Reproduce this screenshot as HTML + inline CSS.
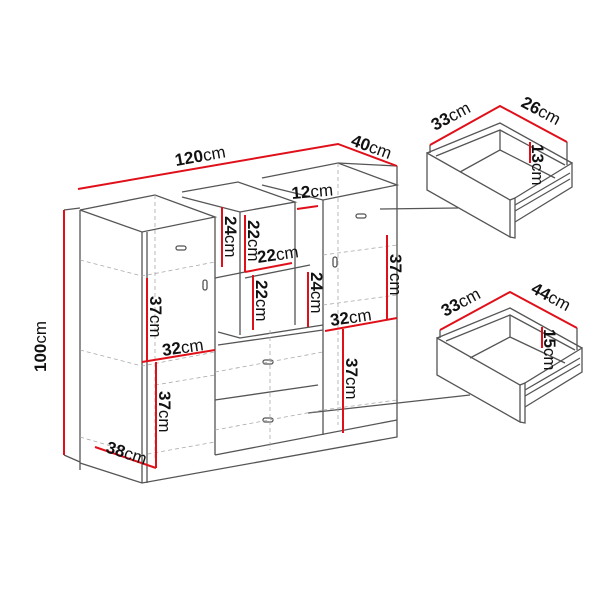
<!DOCTYPE html>
<html><head><style>
html,body{margin:0;padding:0;background:#fff;}
svg{display:block;}
text{font-family:"Liberation Sans",sans-serif;font-size:17px;fill:#111;}
.b{font-weight:bold;}
</style></head><body>
<svg width="615" height="604" viewBox="0 0 615 604" xmlns="http://www.w3.org/2000/svg">
<g stroke="#555" stroke-width="1.3" fill="none">
<polyline points="80,210 155,195 215,217 142,232 80,210"/>
<line x1="80" y1="210" x2="80" y2="463"/>
<polyline points="80,463 142,483 397,437 397,166"/>
<line x1="142" y1="232" x2="142" y2="483"/>
<line x1="147" y1="232" x2="147" y2="483"/>
<line x1="215" y1="217" x2="215" y2="455"/>
<polyline points="262,178 338,163 397,185 323,200 262,185"/>
<line x1="338" y1="163" x2="397" y2="166"/>
<line x1="323" y1="200" x2="323" y2="435"/>
<polyline points="182,192 238,182 295,202 240,212 182,197"/>
<line x1="240" y1="212" x2="240" y2="335"/>
<line x1="295" y1="202" x2="295" y2="325"/>
<polyline points="218,332 240,338 323,325"/>
<polyline points="218,345 323,330"/>
<polyline points="215,400 318,385"/>
<line x1="245" y1="278" x2="310" y2="265"/>
<line x1="215" y1="278" x2="245" y2="272"/>
<line x1="215" y1="455" x2="397" y2="420"/>
<line x1="80" y1="463" x2="80" y2="470"/>
<line x1="64" y1="210" x2="80" y2="208"/>
<line x1="64" y1="455" x2="80" y2="462"/>
<rect x="176" y="246" width="10" height="4" rx="2"/>
<rect x="203" y="280" width="4" height="10" rx="2"/>
<rect x="356" y="214" width="10" height="4" rx="2"/>
<rect x="333" y="257" width="4" height="10" rx="2"/>
<rect x="263" y="360" width="10" height="4" rx="2"/>
<rect x="263" y="418" width="10" height="4" rx="2"/>
<line x1="380" y1="209" x2="458" y2="208"/>
<line x1="308" y1="413" x2="470" y2="395"/>
<polygon points="427,153 510,200 510,237 427,190" fill="#fff"/>
<polyline points="510,200 515,198 515,238 510,237"/>
<polyline points="515,198 572,163 572,187 515,222"/>
<polyline points="427,153 500,123 572,163"/>
<polyline points="436,156 500,130 565,165"/>
<polyline points="500,130 500,150 460,172"/>
<line x1="500" y1="150" x2="555" y2="178"/>
<line x1="430" y1="145" x2="430" y2="153"/>
<line x1="567" y1="142" x2="567" y2="165"/>
<line x1="515" y1="205" x2="570" y2="173"/>
<line x1="515" y1="211" x2="570" y2="179"/>
<polygon points="437,338 520,385 520,422 437,375" fill="#fff"/>
<polyline points="520,385 525,383 525,423 520,422"/>
<polyline points="525,383 582,348 582,372 525,407"/>
<polyline points="437,338 510,308 582,348"/>
<polyline points="446,341 510,315 575,350"/>
<polyline points="510,315 510,337 470,358"/>
<line x1="510" y1="337" x2="565" y2="363"/>
<line x1="440" y1="330" x2="440" y2="338"/>
<line x1="577" y1="328" x2="577" y2="350"/>
<line x1="525" y1="390" x2="580" y2="358"/>
<line x1="525" y1="396" x2="580" y2="364"/>
</g>
<g stroke="#aaa" stroke-width="0.8" stroke-dasharray="4,3" fill="none">
<polyline points="80,260 142,276 215,262"/>
<polyline points="80,350 142,366 215,352"/>
<polyline points="80,437 142,455 215,442"/>
<polyline points="155,195 155,460"/>
<polyline points="323,255 397,245"/>
<polyline points="323,305 397,295"/>
<polyline points="155,385 215,375"/>
<polyline points="215,372 323,352"/>
<polyline points="215,430 323,410"/>
<polyline points="323,410 397,400"/>
<line x1="270" y1="330" x2="270" y2="450"/>
<line x1="338" y1="163" x2="338" y2="425"/>
</g>
<g stroke="#e0101a" stroke-width="2" fill="none">
<polyline points="78,189 338,144 397,166"/>
<line x1="64" y1="210" x2="64" y2="455"/>
<line x1="222" y1="207" x2="222" y2="267"/>
<line x1="245" y1="215" x2="245" y2="272"/>
<line x1="245" y1="272" x2="292" y2="263"/>
<line x1="253" y1="275" x2="253" y2="330"/>
<line x1="308" y1="272" x2="308" y2="327"/>
<line x1="297" y1="209" x2="318" y2="206"/>
<line x1="387" y1="235" x2="387" y2="320"/>
<line x1="325" y1="331" x2="397" y2="318"/>
<line x1="147" y1="278" x2="147" y2="362"/>
<line x1="142" y1="362" x2="215" y2="350"/>
<line x1="156" y1="362" x2="156" y2="468"/>
<line x1="343" y1="329" x2="343" y2="433"/>
<line x1="95" y1="447" x2="156" y2="468"/>
<polyline points="430,145 500,106 567,142"/>
<line x1="530" y1="142" x2="530" y2="163"/>
<polyline points="440,330 510,292 577,328"/>
<line x1="542" y1="327" x2="542" y2="348"/>
</g>
<text x="176" y="166" transform="rotate(-10 176 166)"><tspan class="b">120</tspan>cm</text>
<text x="350" y="145" transform="rotate(20 350 145)"><tspan class="b">40</tspan>cm</text>
<text x="46" y="372" transform="rotate(-90 46 372)"><tspan class="b">100</tspan>cm</text>
<text x="292" y="199" transform="rotate(-5 292 199)"><tspan class="b">12</tspan>cm</text>
<text x="258" y="263" transform="rotate(-8 258 263)"><tspan class="b">22</tspan>cm</text>
<text x="163" y="356" transform="rotate(-8 163 356)"><tspan class="b">32</tspan>cm</text>
<text x="331" y="326" transform="rotate(-8 331 326)"><tspan class="b">32</tspan>cm</text>
<text x="105" y="452" transform="rotate(18 105 452)"><tspan class="b">38</tspan>cm</text>
<text x="225" y="216" transform="rotate(90 225 216)"><tspan class="b">24</tspan>cm</text>
<text x="248" y="220" transform="rotate(90 248 220)"><tspan class="b">22</tspan>cm</text>
<text x="256" y="280" transform="rotate(90 256 280)"><tspan class="b">22</tspan>cm</text>
<text x="311" y="272" transform="rotate(90 311 272)"><tspan class="b">24</tspan>cm</text>
<text x="390" y="254" transform="rotate(90 390 254)"><tspan class="b">37</tspan>cm</text>
<text x="150" y="296" transform="rotate(90 150 296)"><tspan class="b">37</tspan>cm</text>
<text x="159" y="391" transform="rotate(90 159 391)"><tspan class="b">37</tspan>cm</text>
<text x="346" y="358" transform="rotate(90 346 358)"><tspan class="b">37</tspan>cm</text>
<text x="532" y="144" transform="rotate(90 532 144)"><tspan class="b">13</tspan>cm</text>
<text x="544" y="329" transform="rotate(90 544 329)"><tspan class="b">15</tspan>cm</text>
<text x="435" y="131" transform="rotate(-28 435 131)"><tspan class="b">33</tspan>cm</text>
<text x="520" y="106" transform="rotate(28 520 106)"><tspan class="b">26</tspan>cm</text>
<text x="445" y="317" transform="rotate(-28 445 317)"><tspan class="b">33</tspan>cm</text>
<text x="530" y="292" transform="rotate(28 530 292)"><tspan class="b">44</tspan>cm</text>
</svg>
</body></html>
